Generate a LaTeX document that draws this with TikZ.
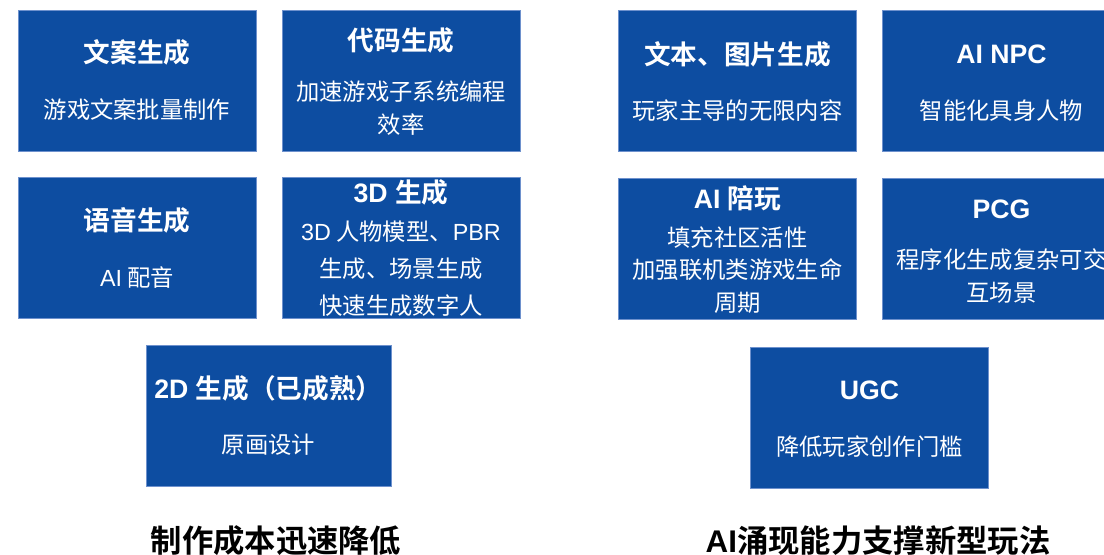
\documentclass[tikz,border=0pt]{standalone}
\usepackage{fontspec}
\setmainfont{Liberation Sans}
\newfontfamily\cjk{Noto Sans CJK SC}[BoldFont={Noto Sans CJK SC Bold}]
\usepackage{xcolor}
\definecolor{cardblue}{RGB}{13,77,161}
\definecolor{cardedge}{RGB}{110,145,205}
\newcommand{\zh}[1]{{\cjk #1}}
\newcommand{\en}[1]{{\rmfamily #1}}

\begin{document}
\begin{tikzpicture}[x=0.75pt, y=-0.75pt,
  card/.style={rectangle, fill=cardblue, draw=cardedge, line width=0.4pt,
               minimum width=178.5pt, minimum height=105.75pt, inner sep=0pt},
  head/.style={text=white, font=\fontsize{20}{24}\selectfont\bfseries, inner sep=0pt},
  desc/.style={text=white, font=\fontsize{17.5}{24.75}\selectfont\cjk, align=center, inner sep=0pt},
  caption/.style={text=black, font=\fontsize{23.5}{28}\selectfont\bfseries, inner sep=0pt}
]
\useasboundingbox (0,0) rectangle (1104,555);

% left group: production cost
\node[card] (wenan) at (137,80.5) {};
\node[head] (wenanT) at (137,52) {\zh{文案生成}};
\node[desc] (wenanD) at (137,110) {游戏文案批量制作};

\node[card] (code) at (401,80.5) {};
\node[head] (codeT) at (401,40) {\zh{代码生成}};
\node[desc] (codeD) at (401,108.5) {加速游戏子系统编程\\效率};

\node[card] (voice) at (137,247.5) {};
\node[head] (voiceT) at (137,220) {\zh{语音生成}};
\node[desc] (voiceD) at (137,278) {\en{AI} 配音};

\node[card] (three) at (401,247.5) {};
\node[head] (threeT) at (401,192) {3D \zh{生成}};
\node[desc, font=\fontsize{17.5}{27.75}\selectfont\cjk] (threeD) at (401,269)
  {\en{3D} 人物模型、\en{PBR}\\生成、场景生成\\快速生成数字人};

\node[card, minimum width=183.75pt] (two) at (268.5,415.5) {};
\node[head] (twoT) at (268.5,388) {2D \zh{生成（已成熟）}};
\node[desc] (twoD) at (268.5,445) {原画设计};

% right group: new gameplay
\node[card] (image) at (737.5,81) {};
\node[head] (imageT) at (737.5,54) {\zh{文本、图片生成}};
\node[desc] (imageD) at (737.5,111) {玩家主导的无限内容};

\node[card] (npc) at (1001.5,81) {};
\node[head] (npcT) at (1001.5,54) {AI NPC};
\node[desc] (npcD) at (1001.5,111) {智能化具身人物};

\node[card] (buddy) at (737.5,248.5) {};
\node[head] (buddyT) at (737.5,198) {AI \zh{陪玩}};
\node[desc, font=\fontsize{17.5}{24.4}\selectfont\cjk] (buddyD) at (737.5,270)
  {填充社区活性\\加强联机类游戏生命\\周期};

\node[card] (pcg) at (1001.5,248.5) {};
\node[head] (pcgT) at (1001.5,209) {PCG};
\node[desc] (pcgD) at (1001.5,276.5) {程序化生成复杂可交\\互场景};

\node[card] (ugc) at (869.5,417.5) {};
\node[head] (ugcT) at (869.5,390) {UGC};
\node[desc] (ugcD) at (869.5,447) {降低玩家创作门槛};

% captions
\node[caption] (costC) at (276,541) {\zh{制作成本迅速降低}};
\node[caption] (playC) at (878,541) {AI\zh{涌现能力支撑新型玩法}};
\end{tikzpicture}
\end{document}
